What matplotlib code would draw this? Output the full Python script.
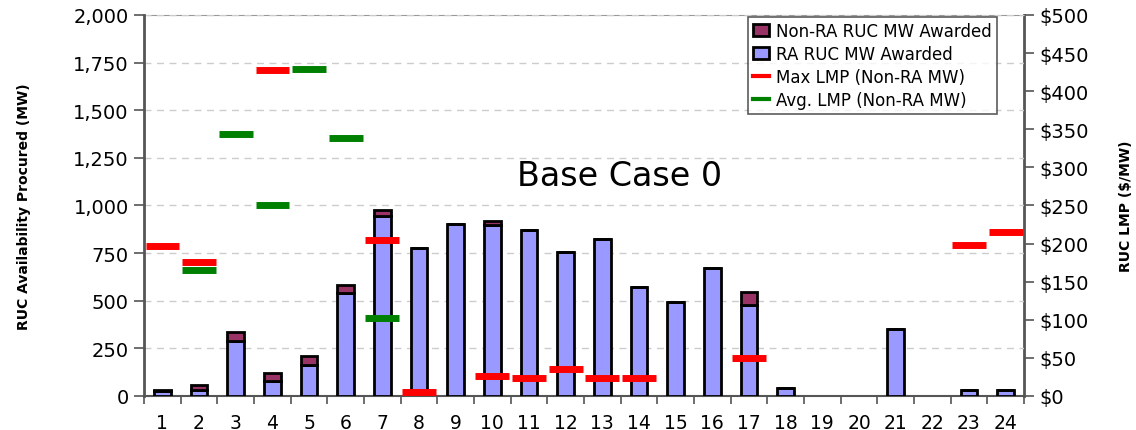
import numpy as np
import matplotlib.pyplot as plt
import matplotlib
from matplotlib.ticker import FuncFormatter, MultipleLocator
from matplotlib.patches import Patch
from matplotlib.lines import Line2D

matplotlib.rc('font', family='DejaVu Sans')

# Hourly data
hours = np.arange(1, 25)
ra_mw = [25, 33, 290, 80, 164, 541, 943, 779, 905, 898, 871, 756,
         823, 571, 495, 674, 478, 44, 0, 0, 351, 0, 33, 33]
non_ra_mw = [8, 25, 47, 41, 48, 42, 32, 0, 0, 21, 0, 0,
             0, 0, 0, 0, 68, 0, 0, 0, 0, 0, 0, 0]
max_lmp = [197, 176, np.nan, 428, np.nan, np.nan, 205, 5, np.nan, 26, 24, 36,
           24, 24, np.nan, np.nan, 50, np.nan, np.nan, np.nan, np.nan, np.nan, 198, 215]
avg_lmp = [np.nan, 166, 344, 251, 429, 338, 103, np.nan, np.nan, np.nan, np.nan, np.nan,
           np.nan, np.nan, np.nan, np.nan, np.nan, np.nan, np.nan, np.nan, np.nan, np.nan, np.nan, np.nan]

fig = plt.figure(figsize=(11.36, 4.31), dpi=100)
ax = fig.add_axes([0.1268, 0.0789, 0.7746, 0.884])
ax2 = ax.twinx()

ra_col = '#9999FF'
nonra_col = '#993366'

ax.set_zorder(ax2.get_zorder() + 1)
ax.patch.set_visible(False)

nz = np.array(ra_mw) + np.array(non_ra_mw) > 0
ax.bar(hours[nz], np.array(ra_mw)[nz], width=0.45, color=ra_col, edgecolor='black', linewidth=2, zorder=3)
ax.bar(hours[nz], np.array(non_ra_mw)[nz], bottom=np.array(ra_mw)[nz], width=0.45,
       color=nonra_col, edgecolor='black', linewidth=2, zorder=3)

# LMP segments on the right axis, drawn on top
ax3 = ax.twinx()
ax3.set_ylim(0, 500)
ax3.axis('off')
ax3.set_zorder(ax.get_zorder() + 1)
ax3.hlines(max_lmp, hours - 0.46, hours + 0.46, colors='#FF0000', linewidth=5)
ax3.hlines(avg_lmp, hours - 0.46, hours + 0.46, colors='#008000', linewidth=5)

ax.set_xlim(0.5, 24.5)
ax.set_ylim(0, 2000)
ax2.set_ylim(0, 500)
ax3.set_xlim(0.5, 24.5)

ax.yaxis.set_major_locator(MultipleLocator(250))
ax.yaxis.set_major_formatter(FuncFormatter(lambda v, p: f'{int(v):,}'))
ax2.yaxis.set_major_locator(MultipleLocator(50))
ax2.yaxis.set_major_formatter(FuncFormatter(lambda v, p: f'${int(v)}'))

ax.set_xticks(hours)
ax.set_xticks(np.arange(0.5, 25, 1), minor=True)
ax.tick_params(axis='x', which='major', length=0, labelsize=13.5, pad=12)
ax.tick_params(axis='x', which='minor', length=6, width=1.2, color='#555555')
ax.tick_params(axis='y', labelsize=14, length=7, width=1.2, color='#555555', pad=4)
ax2.tick_params(axis='y', labelsize=14, length=7, width=1.2, color='#555555', pad=4)

ax.grid(axis='y', linestyle=(0, (5, 4)), color='#CCCCCC', linewidth=1, zorder=0)

for s in ['top', 'right']:
    ax.spines[s].set_visible(False)
ax2.spines['top'].set_color('#999999')
ax2.spines['right'].set_color('#555555')
ax2.spines['right'].set_linewidth(2)
ax2.spines['left'].set_visible(False)
ax2.spines['bottom'].set_visible(False)
ax.spines['left'].set_color('#555555')
ax.spines['left'].set_linewidth(2)
ax.spines['bottom'].set_color('#555555')
ax.spines['bottom'].set_linewidth(1.5)

ax.set_ylabel('RUC Availability Procured (MW)', fontsize=10, fontweight='bold', labelpad=30)
ax2.set_ylabel('RUC LMP ($/MW)', fontsize=10, fontweight='bold', labelpad=22)

ax.text(0.54, 0.58, 'Base Case 0', transform=ax.transAxes, fontsize=24,
        ha='center', va='center')

handles = [Patch(facecolor=nonra_col, edgecolor='black', linewidth=2),
           Patch(facecolor=ra_col, edgecolor='black', linewidth=2),
           Line2D([], [], color='#FF0000', linewidth=3),
           Line2D([], [], color='#008000', linewidth=3)]
labels = ['Non-RA RUC MW Awarded', 'RA RUC MW Awarded',
          'Max LMP (Non-RA MW)', 'Avg. LMP (Non-RA MW)']
leg = ax3.legend(handles, labels, loc='upper right', bbox_to_anchor=(0.969, 0.995),
                 fontsize=12, frameon=True, fancybox=False, edgecolor='#333333',
                 handlelength=1.0, handleheight=0.8, handletextpad=0.4,
                 labelspacing=0.3, borderpad=0.3, borderaxespad=0)
leg.get_frame().set_linewidth(1.2)

fig.savefig('out.png', dpi=100)
